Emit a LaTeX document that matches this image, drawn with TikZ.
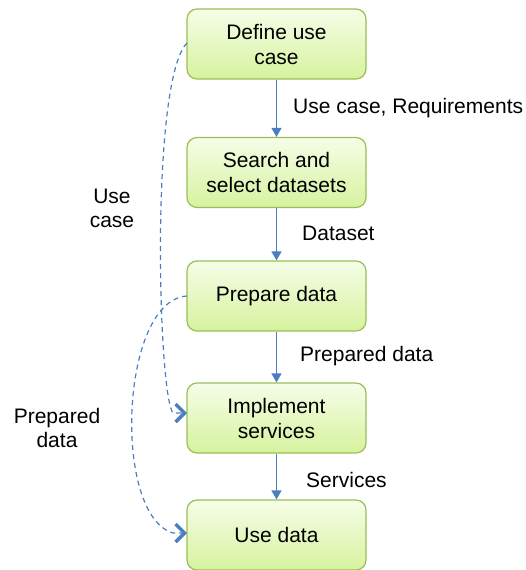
\documentclass[tikz,border=0pt]{standalone}
\usepackage{fontspec}
\setmainfont{Liberation Sans}
\usetikzlibrary{arrows.meta}
\definecolor{boxtop}{RGB}{246,253,232}
\definecolor{boxbot}{RGB}{214,243,158}
\definecolor{boxline}{RGB}{155,190,90}
\definecolor{flow}{RGB}{74,126,192}
\tikzset{
  stepbox/.style={draw=boxline, line width=1.2pt, rounded corners=10pt,
    top color=boxtop, bottom color=boxbot,
    minimum width=179pt, minimum height=70pt, align=center,
    font=\fontsize{21}{25}\selectfont, inner sep=0pt},
  flowarrow/.style={draw=flow, line width=1.3pt,
    -{Triangle[length=9pt,width=10pt]}},
  feedarrow/.style={draw=flow, line width=1.2pt, dash pattern=on 5pt off 4pt,
    -{Straight Barb[length=9pt,width=18pt,line width=3.4pt]}},
  lbl/.style={font=\fontsize{21}{24}\selectfont, inner sep=0pt, align=center}
}
\begin{document}
\begin{tikzpicture}[x=1pt,y=-1pt]
\useasboundingbox (0,0) rectangle (526,570);

% process steps
\node[stepbox] (define)  at (276.5,44)  {Define use\\case};
\node[stepbox] (search)  at (276.5,172.5) {Search and\\select datasets};
\node[stepbox] (prepare) at (276.5,296) {Prepare data};
\node[stepbox] (impl)    at (276.5,418) {Implement\\services};
\node[stepbox] (use)     at (276.5,535) {Use data};

% main flow
\draw[flowarrow] (define) -- (search);
\draw[flowarrow] (search) -- (prepare);
\draw[flowarrow] (prepare) -- (impl);
\draw[flowarrow] (impl) -- (use);

% flow labels
\node[lbl, anchor=west] (l1) at (293,108) {Use case, Requirements};
\node[lbl, anchor=west] (l2) at (302,233) {Dataset};
\node[lbl, anchor=west] (l3) at (300,356) {Prepared data};
\node[lbl, anchor=west] (l4) at (306,480) {Services};

% side flows, each ending in a short horizontal stub
\coordinate (defL) at (187,43);
\coordinate (impIn) at (187,413);
\coordinate (prepL) at (187,296);
\coordinate (useIn) at (187,533);
\draw[feedarrow] (defL) .. controls (150,80) and (158,395) .. (173,413) -- (impIn);
\draw[feedarrow] (prepL) .. controls (120,300) and (112,515) .. (173,533) -- (useIn);

\node[lbl] (s1) at (112,208) {Use\\case};
\node[lbl] (s2) at (57,428) {Prepared\\data};
\end{tikzpicture}
\end{document}
